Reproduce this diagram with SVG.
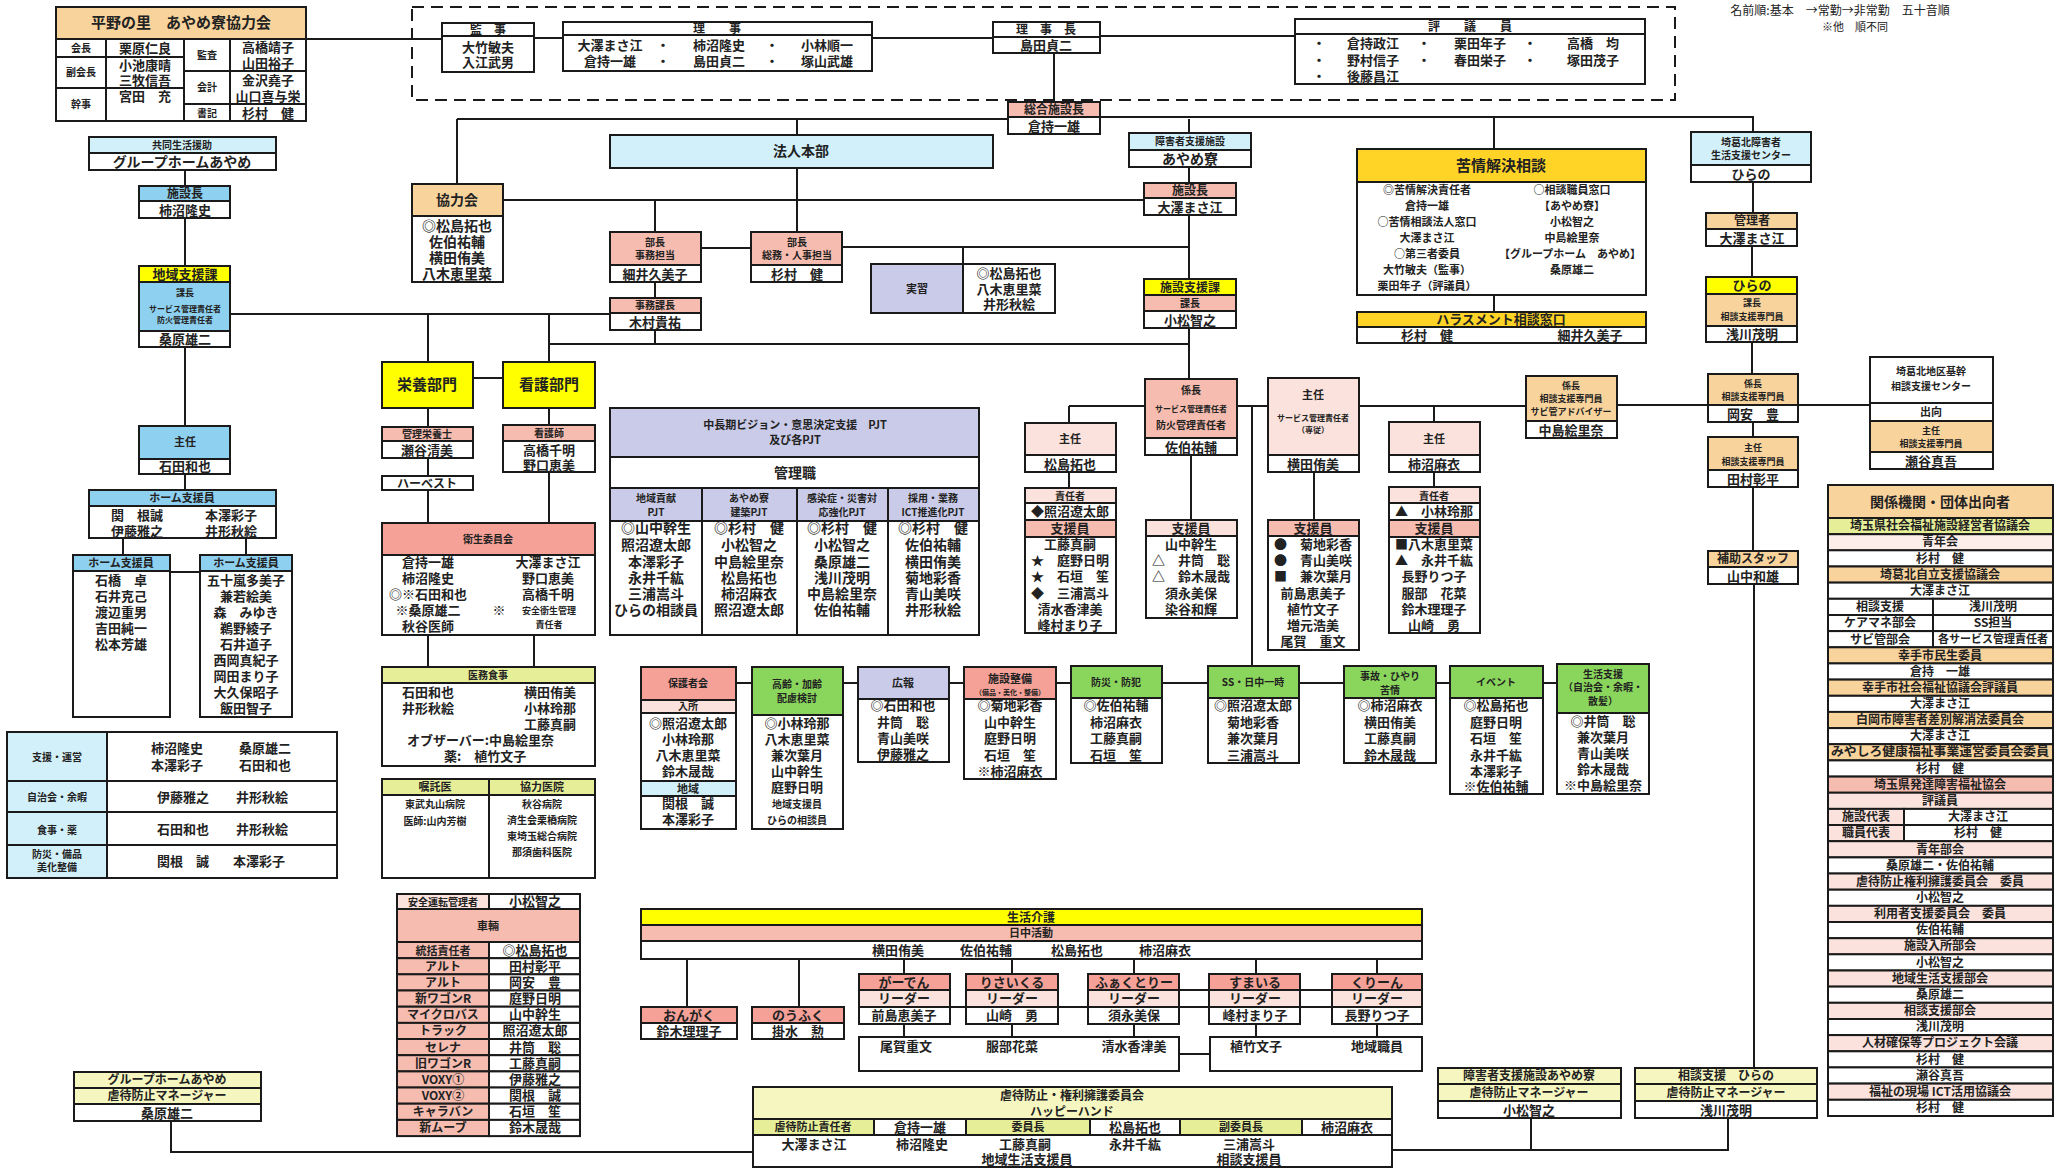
<svg xmlns="http://www.w3.org/2000/svg" width="2063" height="1169" viewBox="0 0 2063 1169">
<style>
rect{stroke:#1a1a1a;stroke-width:2;fill:#fff}
.l{fill:none;stroke:#1a1a1a;stroke-width:2}
.d{fill:none;stroke:#1a1a1a;stroke-width:2;stroke-dasharray:12 7}
.or{fill:#F9D39C}.lb{fill:#D2F0FA}.mb{fill:#8ED0F0}.ye{fill:#FFFF00}.go{fill:#FFD426}
.pk{fill:#F6BCAF}.lp{fill:#FBE2DC}.sa{fill:#F5A197}.la{fill:#C9CBE8}.gr{fill:#8AD65C}
.ly{fill:#F6F7C0}.yg{fill:#E6EF98}.vp{fill:#FDEEEA}
text{font-family:"Noto Sans CJK JP","Noto Sans CJK SC",sans-serif;font-weight:700;fill:#222;text-anchor:middle;font-size:13px}
.s7{font-size:7px}.s8{font-size:8px}.s9{font-size:9px}.s10{font-size:10px}.s11{font-size:11px}.s12{font-size:12px}.s14{font-size:14px}.s15{font-size:15px}
.st{text-anchor:start}.n{font-weight:400}
</style>

<g id="connectors">
<path class="l" d="M306 39H442M534 38H563M872 38H993M1100 36H1295"/>
<path class="l" d="M1054 53V102M457 119H1008M457 119V184M1100 117H1753V132M797 119V135M797 168V232"/>
<path class="l" d="M503 200H1144M655 200V232M701 248H751M842 247H1189M963 248V264M655 282V298M655 330V344M549 344H1189"/>
<path class="l" d="M185 170V186M185 218V266M185 347V426M185 474V490M230 314H610M428 314V362M549 314V362M473 378H503"/>
<path class="l" d="M123 538V555M246 538V555M170 572H200"/>
<path class="l" d="M428 408V427M428 458V476M428 490V523M549 408V425M549 472V523M428 635V667M534 635V667"/>
<path class="l" d="M1189 119V133M1189 167V183M1189 215V279M1189 328V379M1494 117V149M1494 295V312"/>
<path class="l" d="M1753 182V213M1752 246V277M1752 342V374M1753 422V437M1753 487V551M1754 584V1068M1617 405H1708M1798 405H1870"/>
<path class="l" d="M1069 406H1145M1237 406H1268M1359 406H1526M1069 406V423M1069 472V488M1191 455V520M1314 472V520M1434 406V422M1434 472V487M1252 406V666"/>
<path class="l" d="M736 683H752M843 683H858M949 683H964M1056 683H1071M1162 683H1208M1299 683H1344M1436 683H1450M1543 683H1557"/>
<path class="l" d="M687 959V1007M799 959V1007M904 959V974M1012 959V974M1134 959V974M1256 959V974M1377 959V974"/>
<path class="l" d="M950 1007H966M1058 1007H1088M1179 1007H1209M1300 1007H1332M1179 990H1209M1300 990H1332"/>
<path class="l" d="M904 1024V1037M1012 1024V1037M1134 1024V1037M1256 1024V1037M1377 1024V1037M1179 1054H1210"/>
<path class="l" d="M171 1121V1152H753M1531 1118V1150M1728 1118V1150H1392"/>
</g>

<text class="s12 n" x="1840" y="15">名前順:基本　→常勤→非常勤　五十音順</text>
<text class="s11 n" x="1855" y="31">※他　順不同</text>

<rect class="d" x="412" y="7" width="1263" height="93" style="fill:none"/>

<g id="hirano">
<rect class="or" x="56" y="7" width="250" height="32"/>
<text class="s15" x="181" y="28">平野の里　あやめ寮協力会</text>
<rect x="56" y="39" width="250" height="82"/>
<path class="l" d="M106 39V121M184 39V121M230 39V121M56 57H184M56 88H184M184 71H306M184 104H306"/>
<text class="s10" x="81" y="52">会長</text><text x="145" y="53">栗原仁良</text>
<text class="s10" x="81" y="76">副会長</text><text x="145" y="70">小池康晴</text><text x="145" y="85">三牧信吾</text>
<text class="s10" x="81" y="108">幹事</text><text x="145" y="101">宮田　充</text>
<text class="s10" x="207" y="59">監査</text><text x="268" y="52">高橋靖子</text><text x="268" y="68">山田裕子</text>
<text class="s10" x="207" y="91">会計</text><text x="268" y="85">金沢堯子</text><text x="268" y="101">山口喜与栄</text>
<text class="s10" x="207" y="117">書記</text><text x="268" y="118">杉村　健</text>
</g>

<g id="kanji">
<rect x="442" y="23" width="92" height="49"/><path class="l" d="M442 36H534"/>
<text class="s12" x="488" y="34">監　事</text><text x="488" y="52">大竹敏夫</text><text x="488" y="67">入江武男</text>
</g>
<g id="riji">
<rect x="563" y="22" width="309" height="49"/><path class="l" d="M563 35H872"/>
<text class="s12" x="717" y="33">理　　事</text>
<text x="610" y="50">大澤まさ江</text><text x="663" y="50">・</text><text x="719" y="50">柿沼隆史</text><text x="772" y="50">・</text><text x="827" y="50">小林順一</text>
<text x="610" y="66">倉持一雄</text><text x="663" y="66">・</text><text x="719" y="66">島田貞二</text><text x="772" y="66">・</text><text x="827" y="66">塚山武雄</text>
</g>
<g id="rijicho">
<rect x="993" y="22" width="107" height="31"/><path class="l" d="M993 37H1100"/>
<text class="s12" x="1046" y="34">理　事　長</text><text x="1046" y="50">島田貞二</text>
</g>
<g id="hyogiin">
<rect x="1295" y="19" width="350" height="65"/><path class="l" d="M1295 34H1645"/>
<text class="s12" x="1470" y="31">評　　議　　員</text>
<text x="1319" y="48">・</text><text x="1373" y="48">倉持政江</text><text x="1424" y="48">・</text><text x="1480" y="48">栗田年子</text><text x="1530" y="48">・</text><text x="1593" y="48">高橋　均</text>
<text x="1319" y="65">・</text><text x="1373" y="65">野村信子</text><text x="1424" y="65">・</text><text x="1480" y="65">春田栄子</text><text x="1530" y="65">・</text><text x="1593" y="65">塚田茂子</text>
<text x="1319" y="81">・</text><text x="1373" y="81">後藤昌江</text>
</g>

<g id="sogo">
<rect class="pk" x="1008" y="102" width="92" height="15"/><rect x="1008" y="117" width="92" height="17"/>
<text class="s12" x="1054" y="114">総合施設長</text><text x="1054" y="131">倉持一雄</text>
</g>
<g id="hojin">
<rect class="lb" x="610" y="135" width="383" height="33"/><text class="s14" x="801" y="156">法人本部</text>
</g>
<g id="kyoryokukai">
<rect class="or" x="412" y="184" width="91" height="32"/><rect x="412" y="216" width="91" height="66"/>
<text class="s14" x="457" y="205">協力会</text>
<text class="s14" x="457" y="231">◎松島拓也</text><text class="s14" x="457" y="247">佐伯祐輔</text><text class="s14" x="457" y="263">横田侑美</text><text class="s14" x="457" y="279">八木恵里菜</text>
</g>

<g id="gh">
<rect class="lb" x="89" y="137" width="187" height="16"/><rect x="89" y="153" width="187" height="17"/>
<text class="s10" x="182" y="149">共同生活援助</text><text class="s14" x="182" y="167">グループホームあやめ</text>
</g>
<g id="gh-shisetsucho">
<rect class="mb" x="139" y="186" width="91" height="15"/><rect x="139" y="201" width="91" height="17"/>
<text class="s12" x="185" y="198">施設長</text><text x="185" y="215">柿沼隆史</text>
</g>
<g id="chiiki">
<rect class="ye" x="139" y="266" width="91" height="16"/><rect class="mb" x="139" y="282" width="91" height="49"/><rect x="139" y="331" width="91" height="16"/>
<text x="185" y="279">地域支援課</text><text class="s9" x="185" y="296">課長</text>
<text class="s8" x="185" y="312">サービス管理責任者</text><text class="s8" x="185" y="323">防火管理責任者</text>
<text x="185" y="344">桑原雄二</text>
</g>
<g id="shunin-ishida">
<rect class="mb" x="139" y="426" width="91" height="33"/><rect x="139" y="459" width="91" height="15"/>
<text class="s11" x="185" y="446">主任</text><text x="185" y="471">石田和也</text>
</g>
<g id="home1">
<rect class="mb" x="89" y="490" width="187" height="16"/><rect x="89" y="506" width="187" height="32"/>
<text class="s11" x="182" y="502">ホーム支援員</text>
<text x="137" y="520">関　根誠</text><text x="231" y="520">本澤彩子</text>
<text x="137" y="536">伊藤雅之</text><text x="231" y="536">井形秋絵</text>
</g>
<g id="home2">
<rect class="mb" x="73" y="555" width="97" height="16"/><rect x="73" y="571" width="97" height="146"/>
<text class="s11" x="121" y="567">ホーム支援員</text>
<text x="121" y="585">石橋　卓</text><text x="121" y="601">石井克己</text><text x="121" y="617">渡辺重男</text><text x="121" y="633">吉田純一</text><text x="121" y="649">松本芳雄</text>
</g>
<g id="home3">
<rect class="mb" x="200" y="555" width="92" height="16"/><rect x="200" y="571" width="92" height="146"/>
<text class="s11" x="246" y="567">ホーム支援員</text>
<text x="246" y="585">五十嵐多美子</text><text x="246" y="601">兼若絵美</text><text x="246" y="617">森　みゆき</text><text x="246" y="633">鵜野綾子</text><text x="246" y="649">石井道子</text><text x="246" y="665">西岡真紀子</text><text x="246" y="681">岡田まり子</text><text x="246" y="697">大久保昭子</text><text x="246" y="713">飯田智子</text>
</g>
<g id="shien-unei">
<rect x="7" y="732" width="330" height="146"/>
<rect class="lb" x="7" y="732" width="100" height="49"/><rect class="lb" x="7" y="781" width="100" height="31"/><rect class="lb" x="7" y="812" width="100" height="33"/><rect class="lb" x="7" y="845" width="100" height="33"/>
<path class="l" d="M107 781H337M107 812H337M107 845H337"/>
<text class="s10" x="57" y="761">支援・運営</text>
<text x="177" y="753">柿沼隆史</text><text x="265" y="753">桑原雄二</text><text x="177" y="770">本澤彩子</text><text x="265" y="770">石田和也</text>
<text class="s10" x="57" y="801">自治会・余暇</text><text x="183" y="802">伊藤雅之</text><text x="262" y="802">井形秋絵</text>
<text class="s10" x="57" y="834">食事・薬</text><text x="183" y="834">石田和也</text><text x="262" y="834">井形秋絵</text>
<text class="s10" x="57" y="858">防災・備品</text><text class="s10" x="57" y="871">美化整備</text><text x="183" y="866">関根　誠</text><text x="259" y="866">本澤彩子</text>
</g>

<g id="eiyo"><rect class="ye" x="382" y="362" width="91" height="46"/><text class="s15" x="427" y="390">栄養部門</text></g>
<g id="kango"><rect class="ye" x="503" y="362" width="92" height="46"/><text class="s15" x="549" y="390">看護部門</text></g>
<g id="kanri-eiyoshi">
<rect class="pk" x="382" y="427" width="91" height="14"/><rect x="382" y="441" width="91" height="17"/>
<text class="s10" x="427" y="438">管理栄養士</text><text x="427" y="455">瀬谷清美</text>
</g>
<g id="harvest"><rect x="382" y="476" width="91" height="14"/><text class="s12" x="427" y="488">ハーベスト</text></g>
<g id="kangoshi">
<rect class="pk" x="503" y="425" width="92" height="16"/><rect x="503" y="441" width="92" height="31"/>
<text class="s10" x="549" y="437">看護師</text><text x="549" y="455">高橋千明</text><text x="549" y="470">野口恵美</text>
</g>
<g id="eisei">
<rect class="sa" x="382" y="523" width="213" height="32"/><rect x="382" y="555" width="213" height="80"/>
<text class="s10" x="488" y="543">衛生委員会</text>
<text x="428" y="567">倉持一雄</text><text x="428" y="583">柿沼隆史</text><text x="428" y="599">◎※石田和也</text><text x="428" y="615">※桑原雄二</text><text x="428" y="631">秋谷医師</text>
<text x="548" y="567">大澤まさ江</text><text x="548" y="583">野口恵美</text><text x="548" y="599">高橋千明</text>
<text x="499" y="615">※</text><text class="s9" x="549" y="614">安全衛生管理</text><text class="s9" x="549" y="628">責任者</text>
</g>
<g id="imu">
<rect class="yg" x="382" y="667" width="213" height="16"/><rect x="382" y="683" width="213" height="83"/>
<text class="s10" x="488" y="679">医務食事</text>
<text x="428" y="697">石田和也</text><text x="428" y="713">井形秋絵</text>
<text x="550" y="697">横田侑美</text><text x="550" y="713">小林玲那</text><text x="550" y="729">工藤真嗣</text>
<text class="st" x="407" y="745">オブザーバー:中島絵里奈</text>
<text class="st" x="444" y="761">薬:　植竹文子</text>
</g>
<g id="ishi">
<rect class="yg" x="382" y="779" width="107" height="16"/><rect class="yg" x="489" y="779" width="106" height="16"/>
<rect x="382" y="795" width="107" height="83"/><rect x="489" y="795" width="106" height="83"/>
<text class="s11" x="435" y="791">嘱託医</text><text class="s11" x="542" y="791">協力医院</text>
<text class="s10" x="435" y="808">東武丸山病院</text><text class="s10" x="435" y="825">医師:山内芳樹</text>
<text class="s10" x="542" y="808">秋谷病院</text><text class="s10" x="542" y="824">済生会栗橋病院</text><text class="s10" x="542" y="840">東埼玉総合病院</text><text class="s10" x="542" y="856">那須歯科医院</text>
</g>
<g id="sharyo">
<rect class="lp" x="397" y="894" width="92" height="15"/><rect x="489" y="894" width="91" height="15"/>
<rect class="pk" x="397" y="909" width="183" height="33"/>
<text class="s10" x="443" y="906">安全運転管理者</text><text x="535" y="906">小松智之</text><text class="s11" x="488" y="930">車輛</text>
<rect class="pk" x="397" y="942" width="92" height="16.2"/><rect x="489" y="942" width="91" height="16.2"/>
<rect class="pk" x="397" y="958.2" width="92" height="16.2"/><rect x="489" y="958.2" width="91" height="16.2"/>
<rect class="pk" x="397" y="974.3" width="92" height="16.2"/><rect x="489" y="974.3" width="91" height="16.2"/>
<rect class="pk" x="397" y="990.5" width="92" height="16.2"/><rect x="489" y="990.5" width="91" height="16.2"/>
<rect class="pk" x="397" y="1006.7" width="92" height="16.2"/><rect x="489" y="1006.7" width="91" height="16.2"/>
<rect class="pk" x="397" y="1022.9" width="92" height="16.2"/><rect x="489" y="1022.9" width="91" height="16.2"/>
<rect class="pk" x="397" y="1039" width="92" height="16.2"/><rect x="489" y="1039" width="91" height="16.2"/>
<rect class="pk" x="397" y="1055.2" width="92" height="16.2"/><rect x="489" y="1055.2" width="91" height="16.2"/>
<rect class="pk" x="397" y="1071.4" width="92" height="16.2"/><rect x="489" y="1071.4" width="91" height="16.2"/>
<rect class="pk" x="397" y="1087.5" width="92" height="16.2"/><rect x="489" y="1087.5" width="91" height="16.2"/>
<rect class="pk" x="397" y="1103.7" width="92" height="16.2"/><rect x="489" y="1103.7" width="91" height="16.2"/>
<rect class="pk" x="397" y="1119.9" width="92" height="16.2"/><rect x="489" y="1119.9" width="91" height="16.2"/>
<text class="s11" x="443" y="955">統括責任者</text><text x="535" y="955">◎松島拓也</text>
<text class="s12" x="443" y="971">アルト</text><text x="535" y="971">田村彰平</text>
<text class="s12" x="443" y="987">アルト</text><text x="535" y="987">岡安　豊</text>
<text class="s12" x="443" y="1003">新ワゴンR</text><text x="535" y="1003">庭野日明</text>
<text class="s12" x="443" y="1019">マイクロバス</text><text x="535" y="1019">山中幹生</text>
<text class="s12" x="443" y="1035">トラック</text><text x="535" y="1035">照沼遼太郎</text>
<text class="s12" x="443" y="1052">セレナ</text><text x="535" y="1052">井筒　聡</text>
<text class="s12" x="443" y="1068">旧ワゴンR</text><text x="535" y="1068">工藤真嗣</text>
<text class="s12" x="443" y="1084">VOXY①</text><text x="535" y="1084">伊藤雅之</text>
<text class="s12" x="443" y="1100">VOXY②</text><text x="535" y="1100">関根　誠</text>
<text class="s12" x="443" y="1116">キャラバン</text><text x="535" y="1116">石垣　笙</text>
<text class="s12" x="443" y="1132">新ムーブ</text><text x="535" y="1132">鈴木晟哉</text>
</g>

<g id="bucho-jimu">
<rect class="pk" x="610" y="232" width="91" height="33"/><rect x="610" y="265" width="91" height="17"/>
<text class="s10" x="655" y="246">部長</text><text class="s10" x="655" y="259">事務担当</text><text x="655" y="279">細井久美子</text>
</g>
<g id="bucho-somu">
<rect class="pk" x="751" y="232" width="91" height="33"/><rect x="751" y="265" width="91" height="17"/>
<text class="s10" x="797" y="246">部長</text><text class="s10" x="797" y="259">総務・人事担当</text><text x="797" y="279">杉村　健</text>
</g>
<g id="jimukacho">
<rect class="pk" x="610" y="298" width="91" height="15"/><rect x="610" y="313" width="91" height="17"/>
<text class="s10" x="655" y="309">事務課長</text><text x="655" y="327">木村貴祐</text>
</g>
<g id="jisshu">
<rect class="la" x="871" y="264" width="92" height="49"/><rect x="963" y="264" width="92" height="49"/>
<text class="s11" x="917" y="293">実習</text>
<text x="1009" y="278">◎松島拓也</text><text x="1009" y="294">八木恵里菜</text><text x="1009" y="309">井形秋絵</text>
</g>

<g id="pjt">
<rect class="la" x="610" y="408" width="369" height="49"/>
<text class="s11" x="795" y="429">中長期ビジョン・意思決定支援　PJT</text><text class="s11" x="795" y="444">及び各PJT</text>
<rect x="610" y="457" width="369" height="31"/><text class="s14" x="795" y="478">管理職</text>
<rect class="la" x="610" y="488" width="92" height="33"/><rect class="la" x="702" y="488" width="95" height="33"/><rect class="la" x="797" y="488" width="91" height="33"/><rect class="la" x="888" y="488" width="91" height="33"/>
<rect x="610" y="521" width="92" height="114"/><rect x="702" y="521" width="95" height="114"/><rect x="797" y="521" width="91" height="114"/><rect x="888" y="521" width="91" height="114"/>
<text class="s10" x="656" y="502">地域貢献</text><text class="s10" x="656" y="516">PJT</text>
<text class="s10" x="749" y="502">あやめ寮</text><text class="s10" x="749" y="516">建築PJT</text>
<text class="s10" x="842" y="502">感染症・災害対</text><text class="s10" x="842" y="516">応強化PJT</text>
<text class="s10" x="933" y="502">採用・業務</text><text class="s10" x="933" y="516">ICT推進化PJT</text>
<text class="s14" x="656" y="533">◎山中幹生</text><text class="s14" x="656" y="550">照沼遼太郎</text><text class="s14" x="656" y="567">本澤彩子</text><text class="s14" x="656" y="583">永井千紘</text><text class="s14" x="656" y="599">三浦嵩斗</text><text class="s14" x="656" y="615">ひらの相談員</text>
<text class="s14" x="749" y="533">◎杉村　健</text><text class="s14" x="749" y="550">小松智之</text><text class="s14" x="749" y="567">中島絵里奈</text><text class="s14" x="749" y="583">松島拓也</text><text class="s14" x="749" y="599">柿沼麻衣</text><text class="s14" x="749" y="615">照沼遼太郎</text>
<text class="s14" x="842" y="533">◎杉村　健</text><text class="s14" x="842" y="550">小松智之</text><text class="s14" x="842" y="567">桑原雄二</text><text class="s14" x="842" y="583">浅川茂明</text><text class="s14" x="842" y="599">中島絵里奈</text><text class="s14" x="842" y="615">佐伯祐輔</text>
<text class="s14" x="933" y="533">◎杉村　健</text><text class="s14" x="933" y="550">佐伯祐輔</text><text class="s14" x="933" y="567">横田侑美</text><text class="s14" x="933" y="583">菊地彩香</text><text class="s14" x="933" y="599">青山美咲</text><text class="s14" x="933" y="615">井形秋絵</text>
</g>

<g id="ayame">
<rect class="lb" x="1129" y="133" width="122" height="17"/><rect x="1129" y="150" width="122" height="17"/>
<text class="s10" x="1190" y="145">障害者支援施設</text><text class="s14" x="1190" y="164">あやめ寮</text>
</g>
<g id="shisetsucho-osawa">
<rect class="pk" x="1144" y="183" width="92" height="15"/><rect x="1144" y="198" width="92" height="17"/>
<text class="s12" x="1190" y="195">施設長</text><text x="1190" y="212">大澤まさ江</text>
</g>
<g id="shisetsu-shienka">
<rect class="ye" x="1144" y="279" width="92" height="16"/><rect class="pk" x="1144" y="295" width="92" height="16"/><rect x="1144" y="311" width="92" height="17"/>
<text class="s12" x="1190" y="292">施設支援課</text><text class="s10" x="1190" y="307">課長</text><text x="1190" y="325">小松智之</text>
</g>
<g id="kujo">
<rect class="go" x="1357" y="149" width="289" height="33"/><rect x="1357" y="182" width="289" height="113"/>
<text class="s15" x="1501" y="171">苦情解決相談</text>
<text class="s11" x="1427" y="194">◎苦情解決責任者</text><text class="s11" x="1427" y="210">倉持一雄</text><text class="s11" x="1427" y="226">○苦情相談法人窓口</text><text class="s11" x="1427" y="242">大澤まさ江</text><text class="s11" x="1427" y="258">○第三者委員</text><text class="s11" x="1427" y="274">大竹敏夫（監事）</text><text class="s11" x="1427" y="290">栗田年子（評議員）</text>
<text class="s11" x="1572" y="194">○相談職員窓口</text><text class="s11" x="1572" y="210">【あやめ寮】</text><text class="s11" x="1572" y="226">小松智之</text><text class="s11" x="1572" y="242">中島絵里奈</text><text class="s11" x="1570" y="258">【グループホーム　あやめ】</text><text class="s11" x="1572" y="274">桑原雄二</text>
</g>
<g id="harassment">
<rect class="go" x="1357" y="312" width="289" height="15"/><rect x="1357" y="327" width="289" height="16"/>
<text x="1501" y="324">ハラスメント相談窓口</text><text x="1427" y="340">杉村　健</text><text x="1590" y="340">細井久美子</text>
</g>

<g id="sakatsukita">
<rect class="lb" x="1691" y="132" width="120" height="33"/><rect x="1691" y="165" width="120" height="17"/>
<text class="s10" x="1751" y="146">埼葛北障害者</text><text class="s10" x="1751" y="159">生活支援センター</text><text x="1751" y="179">ひらの</text>
</g>
<g id="kanrisha">
<rect class="or" x="1706" y="213" width="91" height="16"/><rect x="1706" y="229" width="91" height="17"/>
<text class="s12" x="1752" y="225">管理者</text><text x="1752" y="243">大澤まさ江</text>
</g>
<g id="hirano-ka">
<rect class="ye" x="1706" y="277" width="91" height="17"/><rect class="or" x="1706" y="294" width="91" height="32"/><rect x="1706" y="326" width="91" height="16"/>
<text x="1752" y="290">ひらの</text><text class="s9" x="1752" y="306">課長</text><text class="s9" x="1752" y="320">相談支援専門員</text><text x="1752" y="339">浅川茂明</text>
</g>
<g id="kakaricho-hirano">
<rect class="or" x="1708" y="374" width="90" height="31"/><rect x="1708" y="405" width="90" height="17"/>
<text class="s9" x="1753" y="387">係長</text><text class="s9" x="1753" y="400">相談支援専門員</text><text x="1753" y="419">岡安　豊</text>
</g>
<g id="shunin-tamura">
<rect class="or" x="1708" y="437" width="90" height="33"/><rect x="1708" y="470" width="90" height="17"/>
<text class="s9" x="1753" y="451">主任</text><text class="s9" x="1753" y="465">相談支援専門員</text><text x="1753" y="484">田村彰平</text>
</g>
<g id="hojo">
<rect class="or" x="1708" y="551" width="90" height="16"/><rect x="1708" y="567" width="90" height="17"/>
<text class="s12" x="1753" y="563">補助スタッフ</text><text x="1753" y="581">山中和雄</text>
</g>
<g id="kakaricho-nakajima">
<rect class="or" x="1526" y="376" width="91" height="45"/><rect x="1526" y="421" width="91" height="17"/>
<text class="s9" x="1571" y="389">係長</text><text class="s9" x="1571" y="402">相談支援専門員</text><text class="s9" x="1571" y="415">サビ管アドバイザー</text><text x="1571" y="435">中島絵里奈</text>
</g>
<g id="kikan">
<rect x="1870" y="357" width="123" height="46"/><rect x="1870" y="403" width="123" height="18"/><rect class="or" x="1870" y="421" width="123" height="31"/><rect x="1870" y="452" width="123" height="17"/>
<text class="s10" x="1931" y="375">埼葛北地区基幹</text><text class="s10" x="1931" y="390">相談支援センター</text>
<text class="s11" x="1931" y="416">出向</text><text class="s9" x="1931" y="434">主任</text><text class="s9" x="1931" y="447">相談支援専門員</text><text x="1931" y="466">瀬谷真吾</text>
</g>

<g id="kakaricho-saeki">
<rect class="pk" x="1145" y="379" width="92" height="59"/><rect x="1145" y="438" width="92" height="17"/>
<text class="s10" x="1191" y="394">係長</text><text class="s8" x="1191" y="412">サービス管理責任者</text><text class="s10" x="1191" y="429">防火管理責任者</text><text x="1191" y="452">佐伯祐輔</text>
</g>
<g id="shunin-matsushima">
<rect class="lp" x="1025" y="423" width="91" height="32"/><rect x="1025" y="455" width="91" height="17"/>
<text class="s11" x="1070" y="443">主任</text><text x="1070" y="469">松島拓也</text>
</g>
<g id="staff-matsushima">
<rect class="lp" x="1025" y="488" width="91" height="15"/><rect x="1025" y="503" width="91" height="17"/><rect class="pk" x="1025" y="520" width="91" height="17"/><rect x="1025" y="537" width="91" height="96"/>
<text class="s10" x="1070" y="500">責任者</text><text x="1070" y="516">◆照沼遼太郎</text><text x="1070" y="533">支援員</text>
<text x="1070" y="549">工藤真嗣</text><text x="1070" y="565">★　庭野日明</text><text x="1070" y="581">★　石垣　笙</text><text x="1070" y="598">◆　三浦嵩斗</text><text x="1070" y="614">清水香津美</text><text x="1070" y="630">峰村まり子</text>
</g>
<g id="staff-saeki">
<rect class="lp" x="1146" y="520" width="91" height="16"/><rect x="1146" y="536" width="91" height="82"/>
<text x="1191" y="533">支援員</text>
<text x="1191" y="549">山中幹生</text><text x="1191" y="565">△　井筒　聡</text><text x="1191" y="581">△　鈴木晟哉</text><text x="1191" y="598">須永美保</text><text x="1191" y="614">染谷和輝</text>
</g>
<g id="shunin-yokota">
<rect class="lp" x="1268" y="378" width="91" height="77"/><rect x="1268" y="455" width="91" height="17"/>
<text class="s11" x="1313" y="399">主任</text><text class="s8" x="1313" y="421">サービス管理責任者</text><text class="s8" x="1313" y="433">（専従）</text><text x="1313" y="469">横田侑美</text>
</g>
<g id="staff-yokota">
<rect class="pk" x="1268" y="520" width="91" height="16"/><rect x="1268" y="536" width="91" height="114"/>
<text x="1313" y="533">支援員</text>
<text x="1313" y="549">●　菊地彩香</text><text x="1313" y="565">●　青山美咲</text><text x="1313" y="581">■　兼次葉月</text><text x="1313" y="598">前島恵美子</text><text x="1313" y="614">植竹文子</text><text x="1313" y="630">増元浩美</text><text x="1313" y="646">尾賀　重文</text>
</g>
<g id="shunin-kakinuma">
<rect class="lp" x="1389" y="422" width="91" height="33"/><rect x="1389" y="455" width="91" height="17"/>
<text class="s11" x="1434" y="443">主任</text><text x="1434" y="469">柿沼麻衣</text>
</g>
<g id="staff-kakinuma">
<rect class="lp" x="1389" y="487" width="91" height="16"/><rect x="1389" y="503" width="91" height="17"/><rect class="pk" x="1389" y="520" width="91" height="17"/><rect x="1389" y="537" width="91" height="96"/>
<text class="s10" x="1434" y="500">責任者</text><text x="1434" y="516">▲　小林玲那</text><text x="1434" y="533">支援員</text>
<text x="1434" y="549">■八木恵里菜</text><text x="1434" y="565">▲　永井千紘</text><text x="1434" y="581">長野りつ子</text><text x="1434" y="598">服部　花菜</text><text x="1434" y="614">鈴木理理子</text><text x="1434" y="630">山崎　勇</text>
</g>

<g id="hogoshakai">
<rect class="sa" x="641" y="667" width="95" height="33"/><rect class="lp" x="641" y="700" width="95" height="13"/><rect x="641" y="713" width="95" height="68"/><rect class="lb" x="641" y="781" width="95" height="15"/><rect x="641" y="796" width="95" height="33"/>
<text class="s10" x="688" y="687">保護者会</text><text class="s10" x="688" y="710">入所</text>
<text x="688" y="728">◎照沼遼太郎</text><text x="688" y="744">小林玲那</text><text x="688" y="760">八木恵里菜</text><text x="688" y="776">鈴木晟哉</text>
<text class="s11" x="688" y="793">地域</text><text x="688" y="808">関根　誠</text><text x="688" y="824">本澤彩子</text>
</g>
<g id="korei">
<rect class="gr" x="752" y="667" width="91" height="48"/><rect x="752" y="715" width="91" height="114"/>
<text class="s10" x="797" y="688">高齢・加齢</text><text class="s10" x="797" y="702">配慮検討</text>
<text x="797" y="728">◎小林玲那</text><text x="797" y="744">八木恵里菜</text><text x="797" y="760">兼次葉月</text><text x="797" y="776">山中幹生</text><text x="797" y="792">庭野日明</text><text class="s10" x="797" y="808">地域支援員</text><text class="s10" x="797" y="824">ひらの相談員</text>
</g>
<g id="koho">
<rect class="la" x="858" y="667" width="91" height="32"/><rect x="858" y="699" width="91" height="63"/>
<text class="s11" x="903" y="687">広報</text>
<text x="903" y="710">◎石田和也</text><text x="903" y="727">井筒　聡</text><text x="903" y="743">青山美咲</text><text x="903" y="759">伊藤雅之</text>
</g>
<g id="shisetsu-seibi">
<rect class="sa" x="964" y="667" width="92" height="32"/><rect x="964" y="699" width="92" height="80"/>
<text class="s11" x="1010" y="683">施設整備</text><text class="s7" x="1010" y="695">（備品・美化・整備）</text>
<text x="1010" y="710">◎菊地彩香</text><text x="1010" y="727">山中幹生</text><text x="1010" y="743">庭野日明</text><text x="1010" y="760">石垣　笙</text><text x="1010" y="776">※柿沼麻衣</text>
</g>
<g id="bosai">
<rect class="gr" x="1071" y="666" width="91" height="32"/><rect x="1071" y="698" width="91" height="65"/>
<text class="s10" x="1116" y="686">防災・防犯</text>
<text x="1116" y="710">◎佐伯祐輔</text><text x="1116" y="727">柿沼麻衣</text><text x="1116" y="743">工藤真嗣</text><text x="1116" y="760">石垣　笙</text>
</g>
<g id="ss">
<rect class="gr" x="1208" y="666" width="91" height="32"/><rect x="1208" y="698" width="91" height="65"/>
<text class="s10" x="1253" y="686">SS・日中一時</text>
<text x="1253" y="710">◎照沼遼太郎</text><text x="1253" y="727">菊地彩香</text><text x="1253" y="743">兼次葉月</text><text x="1253" y="760">三浦嵩斗</text>
</g>
<g id="jiko">
<rect class="gr" x="1344" y="666" width="92" height="32"/><rect x="1344" y="698" width="92" height="65"/>
<text class="s10" x="1390" y="680">事故・ひやり</text><text class="s10" x="1390" y="694">苦情</text>
<text x="1390" y="710">◎柿沼麻衣</text><text x="1390" y="727">横田侑美</text><text x="1390" y="743">工藤真嗣</text><text x="1390" y="760">鈴木晟哉</text>
</g>
<g id="event">
<rect class="gr" x="1450" y="666" width="93" height="32"/><rect x="1450" y="698" width="93" height="96"/>
<text class="s10" x="1496" y="686">イベント</text>
<text x="1496" y="710">◎松島拓也</text><text x="1496" y="727">庭野日明</text><text x="1496" y="743">石垣　笙</text><text x="1496" y="760">永井千紘</text><text x="1496" y="776">本澤彩子</text><text x="1496" y="791">※佐伯祐輔</text>
</g>
<g id="seikatsu-shien">
<rect class="gr" x="1557" y="664" width="92" height="49"/><rect x="1557" y="713" width="92" height="81"/>
<text class="s10" x="1603" y="678">生活支援</text><text class="s10" x="1603" y="691">（自治会・余暇・</text><text class="s10" x="1603" y="705">散髪）</text>
<text x="1603" y="726">◎井筒　聡</text><text x="1603" y="742">兼次葉月</text><text x="1603" y="758">青山美咲</text><text x="1603" y="774">鈴木晟哉</text><text x="1603" y="790">※中島絵里奈</text>
</g>

<g id="kankei">
<rect class="or" x="1828" y="485" width="225" height="33"/><text class="s14" x="1940" y="507">関係機関・団体出向者</text>
<rect class="yg" x="1828" y="518" width="225" height="16.2"/><text class="s12" x="1940" y="530">埼玉県社会福祉施設経営者協議会</text>
<rect class="vp" x="1828" y="534.2" width="225" height="16.2"/><text class="s12" x="1940" y="546">青年会</text>
<rect x="1828" y="550.3" width="225" height="16.2"/><text class="s12" x="1940" y="563">杉村　健</text>
<rect class="or" x="1828" y="566.5" width="225" height="16.2"/><text class="s12" x="1940" y="579">埼葛北自立支援協議会</text>
<rect x="1828" y="582.6" width="225" height="16.2"/><text class="s12" x="1940" y="595">大澤まさ江</text>
<rect x="1828" y="598.8" width="105" height="16.2"/><rect x="1933" y="598.8" width="120" height="16.2"/><text class="s12" x="1880" y="611">相談支援</text><text class="s12" x="1993" y="611">浅川茂明</text>
<rect x="1828" y="615" width="105" height="16.2"/><rect x="1933" y="615" width="120" height="16.2"/><text class="s12" x="1880" y="627">ケアマネ部会</text><text class="s12" x="1993" y="627">SS担当</text>
<rect x="1828" y="631.1" width="105" height="16.2"/><rect x="1933" y="631.1" width="120" height="16.2"/><text class="s12" x="1880" y="644">サビ管部会</text><text class="s11" x="1993" y="643">各サービス管理責任者</text>
<rect class="or" x="1828" y="647.3" width="225" height="16.2"/><text class="s12" x="1940" y="660">幸手市民生委員</text>
<rect x="1828" y="663.4" width="225" height="16.2"/><text class="s12" x="1940" y="676">倉持　一雄</text>
<rect class="or" x="1828" y="679.6" width="225" height="16.2"/><text class="s12" x="1940" y="692">幸手市社会福祉協議会評議員</text>
<rect x="1828" y="695.8" width="225" height="16.2"/><text class="s12" x="1940" y="708">大澤まさ江</text>
<rect class="or" x="1828" y="711.9" width="225" height="16.2"/><text class="s12" x="1940" y="724">白岡市障害者差別解消法委員会</text>
<rect x="1828" y="728.1" width="225" height="16.2"/><text class="s12" x="1940" y="740">大澤まさ江</text>
<rect class="or" x="1828" y="744.2" width="225" height="16.2"/><text class="s12" x="1940" y="756" textLength="218" lengthAdjust="spacingAndGlyphs">みやしろ健康福祉事業運営委員会委員</text>
<rect x="1828" y="760.4" width="225" height="16.2"/><text class="s12" x="1940" y="773">杉村　健</text>
<rect class="pk" x="1828" y="776.6" width="225" height="16.2"/><text class="s12" x="1940" y="789">埼玉県発達障害福祉協会</text>
<rect class="lp" x="1828" y="792.7" width="225" height="16.2"/><text class="s12" x="1940" y="805">評議員</text>
<rect class="lp" x="1828" y="808.9" width="76" height="16.2"/><rect x="1904" y="808.9" width="149" height="16.2"/><text class="s12" x="1866" y="821">施設代表</text><text class="s12" x="1978" y="821">大澤まさ江</text>
<rect class="lp" x="1828" y="825" width="76" height="16.2"/><rect x="1904" y="825" width="149" height="16.2"/><text class="s12" x="1866" y="837">職員代表</text><text class="s12" x="1978" y="837">杉村　健</text>
<rect class="lp" x="1828" y="841.2" width="225" height="16.2"/><text class="s12" x="1940" y="854">青年部会</text>
<rect x="1828" y="857.4" width="225" height="16.2"/><text class="s12" x="1940" y="870">桑原雄二・佐伯祐輔</text>
<rect class="lp" x="1828" y="873.5" width="225" height="16.2"/><text class="s12" x="1940" y="886">虐待防止権利擁護委員会　委員</text>
<rect x="1828" y="889.7" width="225" height="16.2"/><text class="s12" x="1940" y="902">小松智之</text>
<rect class="lp" x="1828" y="905.8" width="225" height="16.2"/><text class="s12" x="1940" y="918">利用者支援委員会　委員</text>
<rect x="1828" y="922" width="225" height="16.2"/><text class="s12" x="1940" y="934">佐伯祐輔</text>
<rect class="lp" x="1828" y="938.2" width="225" height="16.2"/><text class="s12" x="1940" y="950">施設入所部会</text>
<rect x="1828" y="954.3" width="225" height="16.2"/><text class="s12" x="1940" y="967">小松智之</text>
<rect class="lp" x="1828" y="970.5" width="225" height="16.2"/><text class="s12" x="1940" y="983">地域生活支援部会</text>
<rect x="1828" y="986.6" width="225" height="16.2"/><text class="s12" x="1940" y="999">桑原雄二</text>
<rect class="lp" x="1828" y="1002.8" width="225" height="16.2"/><text class="s12" x="1940" y="1015">相談支援部会</text>
<rect x="1828" y="1019" width="225" height="16.2"/><text class="s12" x="1940" y="1031">浅川茂明</text>
<rect class="lp" x="1828" y="1035.1" width="225" height="16.2"/><text class="s12" x="1940" y="1047">人材確保等プロジェクト会議</text>
<rect x="1828" y="1051.3" width="225" height="16.2"/><text class="s12" x="1940" y="1064">杉村　健</text>
<rect x="1828" y="1067.4" width="225" height="16.2"/><text class="s12" x="1940" y="1080">瀬谷真吾</text>
<rect class="lp" x="1828" y="1083.6" width="225" height="16.2"/><text class="s12" x="1940" y="1096">福祉の現場 ICT活用協議会</text>
<rect x="1828" y="1099.8" width="225" height="16.2"/><text class="s12" x="1940" y="1112">杉村　健</text>
</g>

<g id="seikatsu-kaigo">
<rect class="ye" x="641" y="909" width="781" height="16"/><rect class="pk" x="641" y="925" width="781" height="16"/><rect x="641" y="941" width="781" height="18"/>
<text class="s12" x="1031" y="922">生活介護</text><text class="s11" x="1031" y="937">日中活動</text>
<text x="898" y="955">横田侑美</text><text x="986" y="955">佐伯祐輔</text><text x="1077" y="955">松島拓也</text><text x="1165" y="955">柿沼麻衣</text>
</g>
<g id="ongaku">
<rect class="sa" x="641" y="1007" width="96" height="16"/><rect x="641" y="1023" width="96" height="16"/>
<text x="689" y="1020">おんがく</text><text x="689" y="1036">鈴木理理子</text>
</g>
<g id="noufuku">
<rect class="sa" x="752" y="1007" width="92" height="16"/><rect x="752" y="1023" width="92" height="16"/>
<text x="798" y="1020">のうふく</text><text x="798" y="1036">掛水　勲</text>
</g>
<g id="garden">
<rect class="sa" x="859" y="974" width="91" height="16"/><rect class="lp" x="859" y="990" width="91" height="17"/><rect x="859" y="1007" width="91" height="17"/>
<text x="904" y="987">がーでん</text><text x="904" y="1003">リーダー</text><text x="904" y="1020">前島恵美子</text>
</g>
<g id="recycle">
<rect class="sa" x="966" y="974" width="92" height="16"/><rect class="lp" x="966" y="990" width="92" height="17"/><rect x="966" y="1007" width="92" height="17"/>
<text x="1012" y="987">りさいくる</text><text x="1012" y="1003">リーダー</text><text x="1012" y="1020">山崎　勇</text>
</g>
<g id="factory">
<rect class="sa" x="1088" y="974" width="91" height="16"/><rect class="lp" x="1088" y="990" width="91" height="17"/><rect x="1088" y="1007" width="91" height="17"/>
<text x="1134" y="987">ふぁくとりー</text><text x="1134" y="1003">リーダー</text><text x="1134" y="1020">須永美保</text>
</g>
<g id="smile">
<rect class="sa" x="1209" y="974" width="91" height="16"/><rect class="lp" x="1209" y="990" width="91" height="17"/><rect x="1209" y="1007" width="91" height="17"/>
<text x="1255" y="987">すまいる</text><text x="1255" y="1003">リーダー</text><text x="1255" y="1020">峰村まり子</text>
</g>
<g id="clean">
<rect class="sa" x="1332" y="974" width="90" height="16"/><rect class="lp" x="1332" y="990" width="90" height="17"/><rect x="1332" y="1007" width="90" height="17"/>
<text x="1377" y="987">くりーん</text><text x="1377" y="1003">リーダー</text><text x="1377" y="1020">長野りつ子</text>
</g>
<g id="members-a">
<rect x="859" y="1037" width="320" height="34"/>
<text x="906" y="1051">尾賀重文</text><text x="1012" y="1051">服部花菜</text><text x="1134" y="1051">清水香津美</text>
</g>
<g id="members-b">
<rect x="1210" y="1037" width="212" height="34"/>
<text x="1256" y="1051">植竹文子</text><text x="1377" y="1051">地域職員</text>
</g>

<g id="gyakutai">
<rect class="ly" x="753" y="1087" width="639" height="32"/>
<text class="s12" x="1072" y="1100">虐待防止・権利擁護委員会</text><text class="s12" x="1072" y="1116">ハッピーハンド</text>
<rect class="yg" x="753" y="1119" width="121" height="16"/><rect x="874" y="1119" width="92" height="16"/><rect class="yg" x="966" y="1119" width="124" height="16"/><rect x="1090" y="1119" width="90" height="16"/><rect class="yg" x="1180" y="1119" width="122" height="16"/><rect x="1302" y="1119" width="90" height="16"/>
<text class="s11" x="813" y="1131">虐待防止責任者</text><text x="920" y="1132">倉持一雄</text><text class="s11" x="1028" y="1131">委員長</text><text x="1135" y="1132">松島拓也</text><text class="s11" x="1241" y="1131">副委員長</text><text x="1347" y="1132">柿沼麻衣</text>
<rect x="753" y="1135" width="639" height="32"/>
<text x="814" y="1149">大澤まさ江</text><text x="922" y="1149">柿沼隆史</text><text x="1025" y="1149">工藤真嗣</text><text x="1027" y="1164">地域生活支援員</text><text x="1135" y="1149">永井千紘</text><text x="1249" y="1149">三浦嵩斗</text><text x="1249" y="1164">相談支援員</text>
</g>
<g id="gh-gyakutai">
<rect class="ly" x="74" y="1072" width="187" height="16"/><rect class="ly" x="74" y="1088" width="187" height="16"/><rect x="74" y="1104" width="187" height="17"/>
<text class="s12" x="167" y="1084">グループホームあやめ</text><text class="s12" x="167" y="1100">虐待防止マネージャー</text><text x="167" y="1118">桑原雄二</text>
</g>
<g id="ayame-gyakutai">
<rect class="ly" x="1438" y="1068" width="183" height="16"/><rect class="ly" x="1438" y="1084" width="183" height="17"/><rect x="1438" y="1101" width="183" height="17"/>
<text class="s12" x="1529" y="1080">障害者支援施設あやめ寮</text><text class="s12" x="1529" y="1097">虐待防止マネージャー</text><text x="1529" y="1115">小松智之</text>
</g>
<g id="hirano-gyakutai">
<rect class="ly" x="1635" y="1068" width="182" height="16"/><rect class="ly" x="1635" y="1084" width="182" height="17"/><rect x="1635" y="1101" width="182" height="17"/>
<text class="s12" x="1726" y="1080">相談支援　ひらの</text><text class="s12" x="1726" y="1097">虐待防止マネージャー</text><text x="1726" y="1115">浅川茂明</text>
</g>
</svg>
